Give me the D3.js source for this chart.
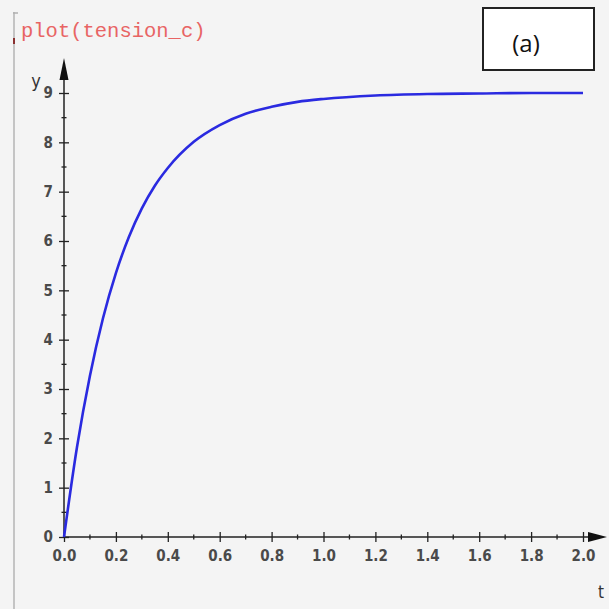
<!DOCTYPE html>
<html>
<head>
<meta charset="utf-8">
<script src="https://cdn.jsdelivr.net/npm/d3@7"></script>
<style>
  body { margin: 0; background: #f4f4f4; }
  svg { display: block; }
</style>
</head>
<body>
<script>
var width = 609,
    height = 609
;

// data
var tValues = [0, 0.05, 0.1, 0.15, 0.2, 0.25, 0.3, 0.35, 0.4, 0.5, 0.6, 0.7, 0.8, 0.9, 1.0, 1.2, 1.4, 1.6, 1.8, 2.0];
var yValues = [0, 1.82, 3.27, 4.43, 5.35, 6.08, 6.66, 7.12, 7.48, 8.01, 8.35, 8.58, 8.72, 8.82, 8.88, 8.95, 8.98, 8.99, 9.0, 9.0];
var xMajorTicks = [0, 0.2, 0.4, 0.6, 0.8, 1.0, 1.2, 1.4, 1.6, 1.8, 2.0];
var xMinorTicks = [0.1, 0.3, 0.5, 0.7, 0.9, 1.1, 1.3, 1.5, 1.7, 1.9];
var yMajorTicks = [0, 1, 2, 3, 4, 5, 6, 7, 8, 9];
var yMinorTicks = [0.5, 1.5, 2.5, 3.5, 4.5, 5.5, 6.5, 7.5, 8.5];
var title = "plot(tension_c)";
var panelLabel = "(a)";

var tickFont = "'DejaVu Sans Condensed', 'DejaVu Sans', sans-serif";

var svg = d3.select("body").append("svg")
    .attr("width", width)
    .attr("height", height)
;

svg.append("rect")
    .attr("width", width)
    .attr("height", height)
    .attr("fill", "#f4f4f4")
;

// left border / bracket
svg.append("line")
    .attr("x1", 14).attr("x2", 14)
    .attr("y1", 12).attr("y2", height)
    .attr("stroke", "#c4c4c4")
    .attr("stroke-width", 2)
;
svg.append("line")
    .attr("x1", 13).attr("x2", 18)
    .attr("y1", 13).attr("y2", 13)
    .attr("stroke", "#b0b0b0")
    .attr("stroke-width", 1.5)
;
svg.append("line")
    .attr("x1", 14).attr("x2", 14)
    .attr("y1", 38).attr("y2", 44)
    .attr("stroke", "#8a3030")
    .attr("stroke-width", 2)
;

// title
svg.append("text")
    .attr("x", 21)
    .attr("y", 37)
    .attr("font-family", "'Liberation Mono', 'DejaVu Sans Mono', monospace")
    .attr("font-size", 20.5)
    .attr("fill", "#e86464")
    .text(title)
;

// panel label box
svg.append("rect")
    .attr("x", 483)
    .attr("y", 8)
    .attr("width", 111)
    .attr("height", 62)
    .attr("fill", "#ffffff")
    .attr("stroke", "#222")
    .attr("stroke-width", 2)
;
svg.append("text")
    .attr("x", 526)
    .attr("y", 52)
    .attr("text-anchor", "middle")
    .attr("font-family", "'Open Sans', 'Liberation Sans', sans-serif")
    .attr("font-size", 24)
    .attr("fill", "#111")
    .text(panelLabel)
;

// scales
var x = d3.scaleLinear()
    .domain([0, 2])
    .range([64, 583])
;
var y = d3.scaleLinear()
    .domain([0, 9])
    .range([537, 93])
;

// x axis
var xAxisG = svg.append("g")
    .attr("transform", `translate(0,${y(0)})`)
;
xAxisG.append("line")
    .attr("x1", x(0)).attr("x2", 590)
    .attr("y1", 0).attr("y2", 0)
    .attr("stroke", "#222")
    .attr("stroke-width", 1.5)
;
xAxisG.append("path")
    .attr("d", "M588,-5L607,0L588,5Z")
    .attr("fill", "#111")
;
var xAxis = d3.axisBottom(x)
    .tickValues(xMajorTicks)
    .tickFormat(d3.format(".1f"))
    .tickSize(5)
    .tickPadding(8)
;
var xg = xAxisG.append("g").call(xAxis);
xg.select(".domain").remove();
xg.selectAll(".tick line").attr("y1", -5).attr("stroke", "#222").attr("stroke-width", 1.3);
xg.selectAll(".tick text")
    .attr("font-family", tickFont)
    .attr("font-stretch", "condensed")
    .attr("font-weight", "bold")
    .attr("font-size", 15)
    .attr("fill", "#4a4a4a")
;
xAxisG.selectAll(".minor")
    .data(xMinorTicks)
    .enter().append("line")
    .attr("class", "minor")
    .attr("x1", d => x(d)).attr("x2", d => x(d))
    .attr("y1", -2.5).attr("y2", 2.5)
    .attr("stroke", "#222")
    .attr("stroke-width", 1.3)
;

// y axis
var yAxisG = svg.append("g")
    .attr("transform", `translate(${x(0)},0)`)
;
yAxisG.append("line")
    .attr("x1", 0).attr("x2", 0)
    .attr("y1", y(0)).attr("y2", 75)
    .attr("stroke", "#222")
    .attr("stroke-width", 1.5)
;
yAxisG.append("path")
    .attr("d", "M-4.5,80L0,58L4.5,80Z")
    .attr("fill", "#111")
;
var yAxis = d3.axisLeft(y)
    .tickValues(yMajorTicks)
    .tickFormat(d3.format("d"))
    .tickSize(5)
    .tickPadding(6)
;
var yg = yAxisG.append("g").call(yAxis);
yg.select(".domain").remove();
yg.selectAll(".tick line").attr("x1", 5).attr("stroke", "#222").attr("stroke-width", 1.3);
yg.selectAll(".tick text")
    .attr("font-family", tickFont)
    .attr("font-stretch", "condensed")
    .attr("font-weight", "bold")
    .attr("font-size", 15)
    .attr("fill", "#4a4a4a")
;
yAxisG.selectAll(".minor")
    .data(yMinorTicks)
    .enter().append("line")
    .attr("class", "minor")
    .attr("x1", -2.5).attr("x2", 2.5)
    .attr("y1", d => y(d)).attr("y2", d => y(d))
    .attr("stroke", "#222")
    .attr("stroke-width", 1.3)
;

// axis names
svg.append("text")
    .attr("x", 36)
    .attr("y", 87)
    .attr("text-anchor", "middle")
    .attr("font-family", tickFont)
    .attr("font-size", 18)
    .attr("fill", "#333")
    .text("y")
;
svg.append("text")
    .attr("x", 601)
    .attr("y", 598)
    .attr("text-anchor", "middle")
    .attr("font-family", tickFont)
    .attr("font-size", 17)
    .attr("fill", "#333")
    .text("t")
;

// curve
var points = tValues.map((t, i) => [t, yValues[i]]);
var line = d3.line()
    .x(d => x(d[0]))
    .y(d => y(d[1]))
    .curve(d3.curveMonotoneX)
;
svg.append("path")
    .datum(points)
    .attr("d", line)
    .attr("fill", "none")
    .attr("stroke", "#2a2ae0")
    .attr("stroke-width", 2.6)
;
</script>
</body>
</html>
